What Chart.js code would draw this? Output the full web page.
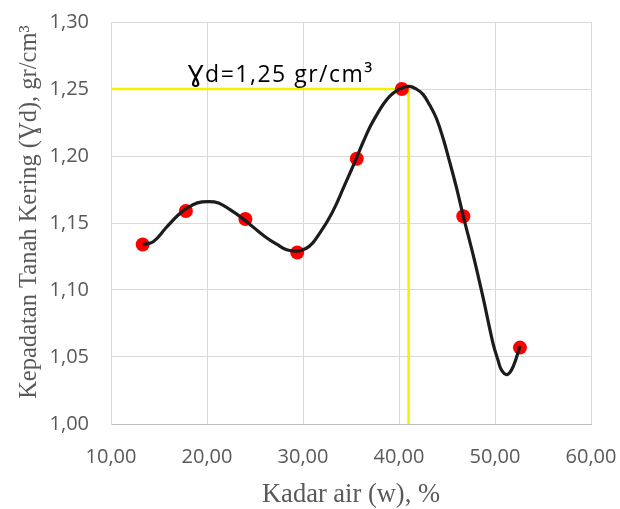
<!DOCTYPE html>
<html>
<head>
<meta charset="utf-8">
<script src="https://cdn.jsdelivr.net/npm/chart.js@4.4.1/dist/chart.umd.min.js"></script>
<style>
  html, body { margin: 0; padding: 0; background: #ffffff; }
  #wrap { width: 620px; height: 509px; position: relative; }
</style>
</head>
<body>
<div id="wrap"><canvas id="c" width="620" height="509"></canvas></div>
<script>
// Compaction test results: water content (%) vs dry density (gr/cm3)
const moisture   = [13.3, 17.8, 24.0, 29.4, 35.6, 40.3, 46.7, 52.6];
const dryDensity = [1.134, 1.159, 1.153, 1.128, 1.198, 1.250, 1.155, 1.057];

// Fitted compaction curve, sampled along its length
const curveX = [13.3, 14.4, 15.8, 17.0, 17.9, 19.0, 20.1, 21.2, 22.4, 23.6, 24.8, 26.2, 27.3, 28.3, 29.4, 30.3, 31.0, 31.8,
                32.6, 33.4, 34.2, 35.0, 35.6, 36.3, 37.0, 37.7, 38.4, 39.1, 39.8, 40.4, 41.1, 41.8, 42.5, 43.2, 43.9, 44.6,
                45.3, 46.0, 46.7, 47.8, 48.8, 49.8, 50.3, 50.7, 51.3, 51.9, 52.6];
const curveY = [1.134, 1.136, 1.147, 1.156, 1.161, 1.165, 1.166, 1.165, 1.160, 1.154, 1.147, 1.139, 1.134, 1.130, 1.129, 1.131, 1.135, 1.143,
                1.152, 1.163, 1.176, 1.189, 1.199, 1.211, 1.222, 1.231, 1.239, 1.245, 1.249, 1.251, 1.252, 1.250, 1.246, 1.238, 1.228, 1.213,
                1.195, 1.176, 1.155, 1.124, 1.093, 1.060, 1.048, 1.040, 1.037, 1.043, 1.058];

// Maximum dry density and optimum moisture content
const maxDensity = 1.25;
const optimumMoisture = 41.0;
const gammaSymbol = 'Ɣ';
const densityLabelRest = 'd=1,25 gr/cm³';
const labelAtMoisture = 18.0;

// Axis ticks and titles
const xTicks = [10, 20, 30, 40, 50, 60];
const yTicks = [1.00, 1.05, 1.10, 1.15, 1.20, 1.25, 1.30];
const xTitle = 'Kadar air (w), %';
const yTitle = 'Kepadatan Tanah Kering (Ɣd), gr/cm³';

const fmt = v => v.toFixed(2).replace('.', ',');
const toXY = (xs, ys) => xs.map((x, i) => ({ x: x, y: ys[i] }));

// Axis titles and the density annotation
const textPlugin = {
  id: 'texts',
  afterDatasetsDraw(chart) {
    const { ctx, scales } = chart;
    const xs = scales.x, ys = scales.y;
    ctx.save();
    // annotation above the maximum-density line
    const lx = xs.getPixelForValue(labelAtMoisture);
    const ly = ys.getPixelForValue(maxDensity) - 7;
    ctx.fillStyle = '#000000';
    ctx.textAlign = 'left';
    ctx.textBaseline = 'alphabetic';
    ctx.letterSpacing = '1.5px';
    ctx.font = '23px "DejaVu Sans"';
    ctx.fillText(gammaSymbol, lx, ly);
    const gw = ctx.measureText(gammaSymbol).width;
    ctx.font = '23px "Open Sans"';
    ctx.fillText(densityLabelRest, lx + gw, ly);
    ctx.letterSpacing = '0px';
    // x title
    ctx.fillStyle = '#595959';
    ctx.font = '26.5px "Liberation Serif"';
    ctx.textAlign = 'center';
    ctx.fillText(xTitle, (chart.chartArea.left + chart.chartArea.right) / 2, 502);
    // y title
    ctx.font = '24.5px "Liberation Serif"';
    ctx.translate(36, 212);
    ctx.rotate(-Math.PI / 2);
    ctx.fillText(yTitle, 0, 0);
    ctx.restore();
  }
};

const clearEdgePadding = s => { s.paddingTop = 0; s.paddingBottom = 0; s.paddingLeft = 0; s.paddingRight = 0; };

new Chart(document.getElementById('c'), {
  type: 'scatter',
  data: {
    datasets: [
      {
        label: 'curve',
        type: 'line',
        data: toXY(curveX, curveY),
        borderColor: '#1c1c1c',
        borderWidth: 3.2,
        pointRadius: 0,
        tension: 0.4,
        fill: false,
        order: 0
      },
      {
        label: 'data',
        data: toXY(moisture, dryDensity),
        backgroundColor: '#ff0000',
        borderColor: '#ff0000',
        pointRadius: 7,
        pointBorderWidth: 0,
        order: 1
      },
      {
        label: 'max',
        type: 'line',
        data: [
          { x: xTicks[0], y: maxDensity },
          { x: optimumMoisture, y: maxDensity },
          { x: optimumMoisture, y: yTicks[0] }
        ],
        borderColor: '#f2f200',
        borderWidth: 2.5,
        pointRadius: 0,
        tension: 0,
        fill: false,
        order: 2
      }
    ]
  },
  options: {
    responsive: false,
    animation: false,
    layout: { padding: { top: 22, right: 29, bottom: 0, left: 0 } },
    plugins: { legend: { display: false }, tooltip: { enabled: false } },
    scales: {
      x: {
        type: 'linear',
        min: xTicks[0],
        max: xTicks[xTicks.length - 1],
        afterBuildTicks: s => { s.ticks = xTicks.map(v => ({ value: v })); },
        afterFit: s => { s.height = 85; clearEdgePadding(s); },
        grid: { color: '#d9d9d9', lineWidth: 1, drawTicks: false },
        border: { color: '#bfbfbf', width: 1 },
        ticks: { color: '#595959', font: { family: 'Open Sans', size: 20 }, padding: 21, callback: v => fmt(v), maxRotation: 0 }
      },
      y: {
        type: 'linear',
        min: yTicks[0],
        max: yTicks[yTicks.length - 1],
        afterBuildTicks: s => { s.ticks = yTicks.map(v => ({ value: v })); },
        afterFit: s => { s.width = 111; clearEdgePadding(s); },
        grid: { color: '#d9d9d9', lineWidth: 1, drawTicks: false },
        border: { color: '#d9d9d9', width: 1 },
        ticks: { color: '#595959', font: { family: 'Open Sans', size: 20 }, padding: 22, callback: v => fmt(v) }
      }
    }
  },
  plugins: [textPlugin]
});
</script>
</body>
</html>
